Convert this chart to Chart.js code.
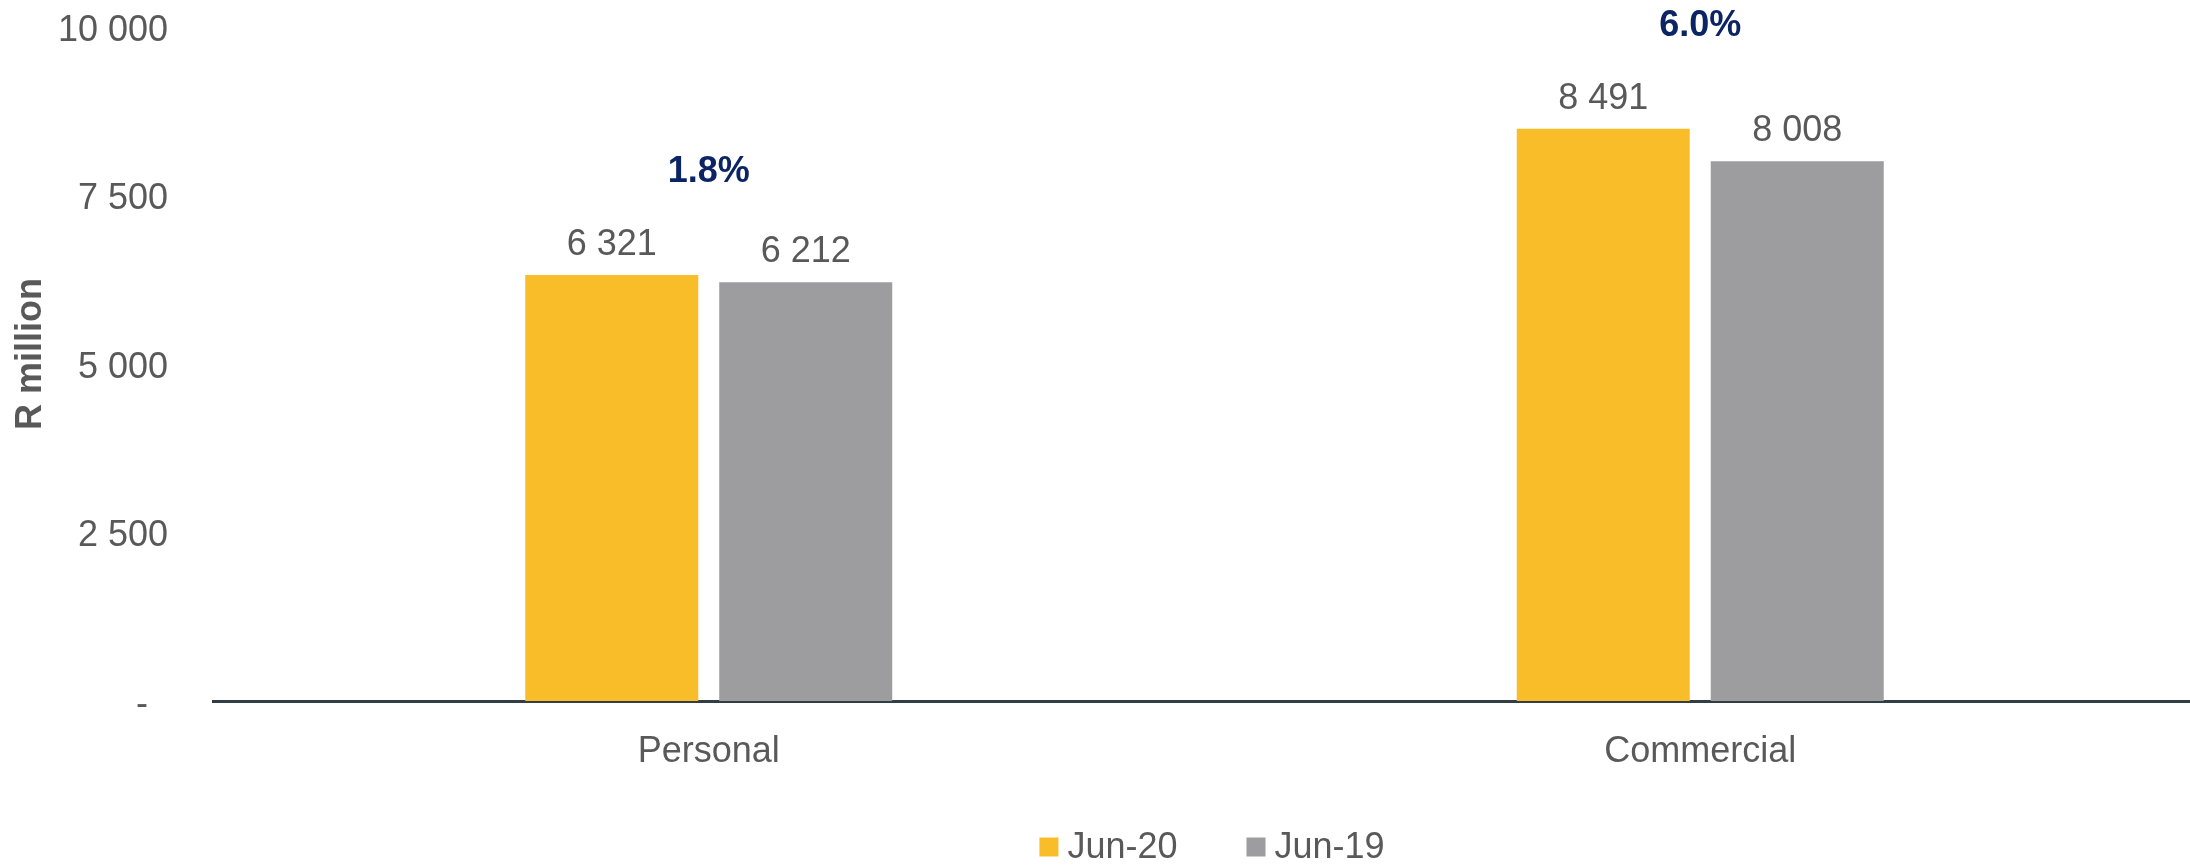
<!DOCTYPE html>
<html>
<head>
<meta charset="utf-8">
<script src="https://cdn.jsdelivr.net/npm/chart.js@4/dist/chart.umd.min.js"></script>
<style>
  html, body { margin: 0; padding: 0; background: #ffffff; overflow: hidden; }
  #wrap { width: 2190px; height: 865px; position: relative; overflow: hidden; }
  canvas { display: block; }
</style>
</head>
<body>
<div id="wrap"><canvas id="c" width="2196" height="865"></canvas></div>
<script>
// ---- data ----
const categories = ['Personal', 'Commercial'];
const seriesNames = ['Jun-20', 'Jun-19'];
const jun20 = [6321, 8491];
const jun19 = [6212, 8008];
const growthLabels = ['1.8%', '6.0%'];
const yTicks = [0, 2500, 5000, 7500, 10000];
const axisTitle = 'R million';

const FONT = '"Liberation Sans", Arial, Helvetica, sans-serif';
const TEXT = '#595959';
const colors = ['#F9BD2A', '#9D9D9F'];

function fmt(v) {
  if (v === 0) return '-  ';
  return String(v).replace(/\B(?=(\d{3})+(?!\d))/g, ' ');
}

const labelsPlugin = {
  id: 'customLabels',
  afterDatasetsDraw(chart) {
    const ctx = chart.ctx;
    ctx.save();
    ctx.textAlign = 'center';
    ctx.textBaseline = 'middle';
    ctx.fillStyle = TEXT;
    ctx.font = '36px ' + FONT;
    const tops = [];
    chart.data.datasets.forEach((ds, di) => {
      const meta = chart.getDatasetMeta(di);
      meta.data.forEach((bar, i) => {
        ctx.fillText(fmt(ds.data[i]), bar.x, bar.y - 30);
        tops[i] = Math.min(tops[i] === undefined ? Infinity : tops[i], bar.y);
      });
    });
    // growth labels
    ctx.font = 'bold 36px ' + FONT;
    ctx.fillStyle = '#0B2463';
    const xs = chart.scales.x;
    growthLabels.forEach((t, i) => {
      ctx.fillText(t, xs.getPixelForValue(i), tops[i] - 103);
    });
    // y axis title
    ctx.save();
    ctx.translate(31, 354);
    ctx.rotate(-Math.PI / 2);
    ctx.fillStyle = TEXT;
    ctx.font = 'bold 36px ' + FONT;
    ctx.fillText(axisTitle, 0, 0);
    ctx.restore();
    // legend
    ctx.font = '36px ' + FONT;
    ctx.textAlign = 'left';
    const box = 19, gapText = 9, gapItem = 69;
    const widths = chart.data.datasets.map(d => ctx.measureText(d.label).width);
    let total = 0;
    widths.forEach((w, i) => { total += box + gapText + w + (i < widths.length - 1 ? gapItem : 0); });
    const cx = 1212;
    let x = cx - total / 2;
    const ly = 847;
    chart.data.datasets.forEach((d, i) => {
      ctx.fillStyle = d.backgroundColor;
      ctx.fillRect(x, ly - box / 2, box, box);
      ctx.fillStyle = TEXT;
      ctx.fillText(d.label, x + box + gapText, ly + 1);
      x += box + gapText + widths[i] + gapItem;
    });
    ctx.restore();
  }
};

new Chart(document.getElementById('c'), {
  type: 'bar',
  data: {
    labels: categories,
    datasets: [
      { label: seriesNames[0], data: jun20, backgroundColor: colors[0] },
      { label: seriesNames[1], data: jun19, backgroundColor: colors[1] }
    ]
  },
  options: {
    responsive: false,
    animation: false,
    devicePixelRatio: 1,
    layout: { padding: { top: 27, left: 0, right: 0, bottom: 0 } },
    categoryPercentage: 0.3913,
    barPercentage: 0.8918,
    plugins: { legend: { display: false }, tooltip: { enabled: false } },
    scales: {
      x: {
        grid: { display: false, drawTicks: false },
        border: { display: true, color: '#323E44', width: 3 },
        ticks: { color: TEXT, font: { family: FONT, size: 36 }, padding: 29, maxRotation: 0 },
        afterFit(s) { s.height = 164; s.paddingLeft = 0; s.paddingRight = 0; }
      },
      y: {
        min: 0, max: 10000,
        grid: { display: false, drawTicks: false },
        border: { display: false },
        afterBuildTicks(s) { s.ticks = yTicks.map(v => ({ value: v })); },
        ticks: {
          color: TEXT, font: { family: FONT, size: 36 }, padding: 45, labelOffset: 4,
          callback: (v) => fmt(v)
        },
        afterFit(s) { s.width = 213; s.paddingTop = 0; s.paddingBottom = 0; }
      }
    }
  },
  plugins: [labelsPlugin]
});
</script>
</body>
</html>
